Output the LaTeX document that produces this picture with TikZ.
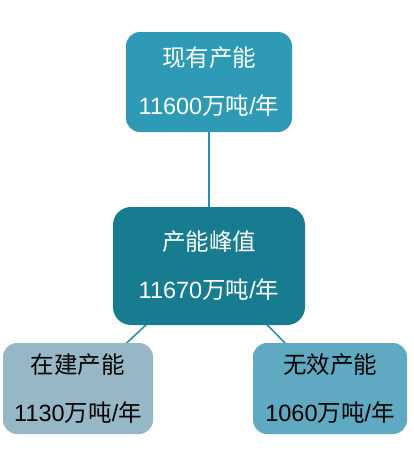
\documentclass[tikz,border=0pt]{standalone}
\usepackage{fontspec}
\setmainfont{Liberation Sans}
\newfontfamily\cjk{Noto Sans CJK SC}
\definecolor{ctop}{HTML}{2E9AB5}
\definecolor{cmid}{HTML}{177C90}
\definecolor{cleft}{HTML}{96B8C6}
\definecolor{cright}{HTML}{5FA9C2}
\definecolor{cline}{HTML}{2E90A8}
\begin{document}
\begin{tikzpicture}[x=1pt,y=-1pt,
  box/.style={rounded corners=14pt, align=center, inner sep=0pt,
    font=\fontsize{23.5}{48}\selectfont},
  link/.style={draw=cline, line width=1.6pt}]
\useasboundingbox (0,0) rectangle (414,453);
\fill[white] (0,0) rectangle (414,453);
\coordinate (ct) at (209,82);
\coordinate (cm) at (209,266);
\coordinate (cl) at (78,388.5);
\coordinate (cr) at (330,388.5);
\draw[link] (ct) -- (cm);
\draw[link] (cm) -- (cl);
\draw[link] (cm) -- (cr);
\node[box, fill=ctop, text=white, minimum width=166pt, minimum height=100pt] (top) at (ct) {{\cjk 现有产能}\\11600{\cjk 万吨}/{\cjk 年}};
\node[box, fill=cmid, text=white, rounded corners=18pt, minimum width=192pt, minimum height=118pt] (mid) at (cm) {{\cjk 产能峰值}\\11670{\cjk 万吨}/{\cjk 年}};
\node[box, fill=cleft, text=black, minimum width=150pt, minimum height=91pt] (left) at (cl) {{\cjk 在建产能}\\1130{\cjk 万吨}/{\cjk 年}};
\node[box, fill=cright, text=black, minimum width=154pt, minimum height=91pt] (right) at (cr) {{\cjk 无效产能}\\1060{\cjk 万吨}/{\cjk 年}};
\end{tikzpicture}
\end{document}
